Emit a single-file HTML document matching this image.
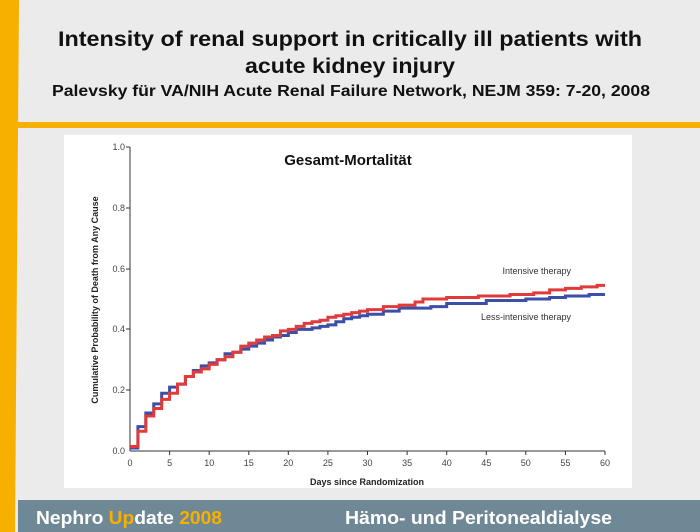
<!DOCTYPE html>
<html><head><meta charset="utf-8"><style>html,body{margin:0;padding:0;background:#ebebeb}svg{display:block}</style></head>
<body>
<svg width="700" height="532" viewBox="0 0 700 532" xmlns="http://www.w3.org/2000/svg" font-family="Liberation Sans, Arial, sans-serif">
<rect width="700" height="532" fill="#ebebeb"/>
<polygon points="0,0 19,0 15,532 0,532" fill="#f7b000"/>
<rect x="15" y="122" width="685" height="6" fill="#f7b000"/>
<rect x="18" y="500" width="682" height="32" fill="#6f8896"/>
<text x="350" y="46" font-size="21" font-weight="bold" text-anchor="middle" textLength="584" lengthAdjust="spacingAndGlyphs" fill="#111">Intensity of renal support in critically ill patients with</text>
<text x="350" y="73" font-size="21" font-weight="bold" text-anchor="middle" textLength="210" lengthAdjust="spacingAndGlyphs" fill="#111">acute kidney injury</text>
<text x="351" y="96" font-size="16" font-weight="bold" text-anchor="middle" textLength="598" lengthAdjust="spacingAndGlyphs" fill="#111">Palevsky für VA/NIH Acute Renal Failure Network, NEJM 359: 7-20, 2008</text>
<rect x="64" y="135" width="568" height="353" fill="#fff"/>
<text x="348" y="165" font-size="15" font-weight="bold" text-anchor="middle" fill="#111">Gesamt-Mortalität</text>
<g stroke="#333" stroke-width="1" fill="none">
<line x1="130" y1="147" x2="130" y2="451"/><line x1="130" y1="451" x2="605" y2="451"/>
<line x1="126" y1="147" x2="130" y2="147"/><line x1="126" y1="208" x2="130" y2="208"/><line x1="126" y1="269" x2="130" y2="269"/><line x1="126" y1="329" x2="130" y2="329"/><line x1="126" y1="390" x2="130" y2="390"/>
<line x1="169.6" y1="451" x2="169.6" y2="455"/><line x1="209.2" y1="451" x2="209.2" y2="455"/><line x1="248.8" y1="451" x2="248.8" y2="455"/><line x1="288.3" y1="451" x2="288.3" y2="455"/><line x1="327.9" y1="451" x2="327.9" y2="455"/><line x1="367.5" y1="451" x2="367.5" y2="455"/><line x1="407.1" y1="451" x2="407.1" y2="455"/><line x1="446.7" y1="451" x2="446.7" y2="455"/><line x1="486.3" y1="451" x2="486.3" y2="455"/><line x1="525.8" y1="451" x2="525.8" y2="455"/><line x1="565.4" y1="451" x2="565.4" y2="455"/><line x1="605" y1="451" x2="605" y2="455"/>
</g>
<g font-size="9" fill="#444" text-anchor="end">
<text x="125" y="150">1.0</text><text x="125" y="211">0.8</text><text x="125" y="272">0.6</text><text x="125" y="332">0.4</text><text x="125" y="393">0.2</text><text x="125" y="454">0.0</text>
</g>
<g font-size="9" fill="#444" text-anchor="middle">
<text x="130" y="466">0</text><text x="169.6" y="466">5</text><text x="209.2" y="466">10</text><text x="248.8" y="466">15</text><text x="288.3" y="466">20</text><text x="327.9" y="466">25</text><text x="367.5" y="466">30</text><text x="407.1" y="466">35</text><text x="446.7" y="466">40</text><text x="486.3" y="466">45</text><text x="525.8" y="466">50</text><text x="565.4" y="466">55</text><text x="605" y="466">60</text>
</g>
<text x="367" y="485" font-size="9" font-weight="bold" text-anchor="middle" fill="#222">Days since Randomization</text>
<text transform="translate(98,300) rotate(-90)" font-size="9" font-weight="bold" text-anchor="middle" fill="#222">Cumulative Probability of Death from Any Cause</text>
<text x="571" y="274" font-size="9" text-anchor="end" fill="#333">Intensive therapy</text>
<text x="571" y="320" font-size="9" text-anchor="end" fill="#333">Less-intensive therapy</text>
<g transform="translate(130,451) scale(7.917,-3.04)" fill="none" stroke-width="3" stroke-linejoin="miter">
<polyline vector-effect="non-scaling-stroke" stroke="#3b4fa8" points="0,1 1,1 1,8 2,8 2,12.5 3,12.5 3,15.5 4,15.5 4,19 5,19 5,21 6,21 6,22 7,22 7,24.5 8,24.5 8,26.5 9,26.5 9,28 10,28 10,29 11,29 11,30 12,30 12,32 13,32 13,32.5 14,32.5 14,33.5 15,33.5 15,34.5 16,34.5 16,35.5 17,35.5 17,36.5 18,36.5 18,37.5 19,37.5 19,38 20,38 20,39 21,39 21,40 23,40 23,40.5 24,40.5 24,41 25,41 25,41.5 26,41.5 26,42.5 27,42.5 27,43.5 28,43.5 28,44 29,44 29,44.5 30,44.5 30,45 32,45 32,46 34,46 34,47 38,47 38,47.5 40,47.5 40,48.5 45,48.5 45,49.5 50,49.5 50,50 53,50 53,50.5 55,50.5 55,51 58,51 58,51.5 60,51.5"/>
<polyline vector-effect="non-scaling-stroke" stroke="#e03a3a" points="0,1.5 1,1.5 1,6.5 2,6.5 2,11.5 3,11.5 3,14 4,14 4,17 5,17 5,19 6,19 6,22 7,22 7,24.5 8,24.5 8,26 9,26 9,27 10,27 10,28.5 11,28.5 11,30 12,30 12,31 13,31 13,32.5 14,32.5 14,34.5 15,34.5 15,35.5 16,35.5 16,36.5 17,36.5 17,37.5 18,37.5 18,38 19,38 19,39.5 20,39.5 20,40 21,40 21,41 22,41 22,42 23,42 23,42.5 24,42.5 24,43 25,43 25,44 26,44 26,44.5 27,44.5 27,45 28,45 28,45.5 29,45.5 29,46 30,46 30,46.5 32,46.5 32,47.5 34,47.5 34,48 36,48 36,49 37,49 37,50 40,50 40,50.5 44,50.5 44,51 48,51 48,51.5 51,51.5 51,52 53,52 53,53 55,53 55,53.5 57,53.5 57,54 59,54 59,54.5 60,54.5"/>
</g>
<text x="36" y="524" font-size="18" font-weight="bold" fill="#fff" textLength="186" lengthAdjust="spacingAndGlyphs">Nephro <tspan fill="#f7b000">Up</tspan>date <tspan fill="#f7b000">2008</tspan></text>
<text x="345" y="524" font-size="18" font-weight="bold" fill="#fff" textLength="267" lengthAdjust="spacingAndGlyphs">Hämo- und Peritonealdialyse</text>
</svg>
</body></html>
